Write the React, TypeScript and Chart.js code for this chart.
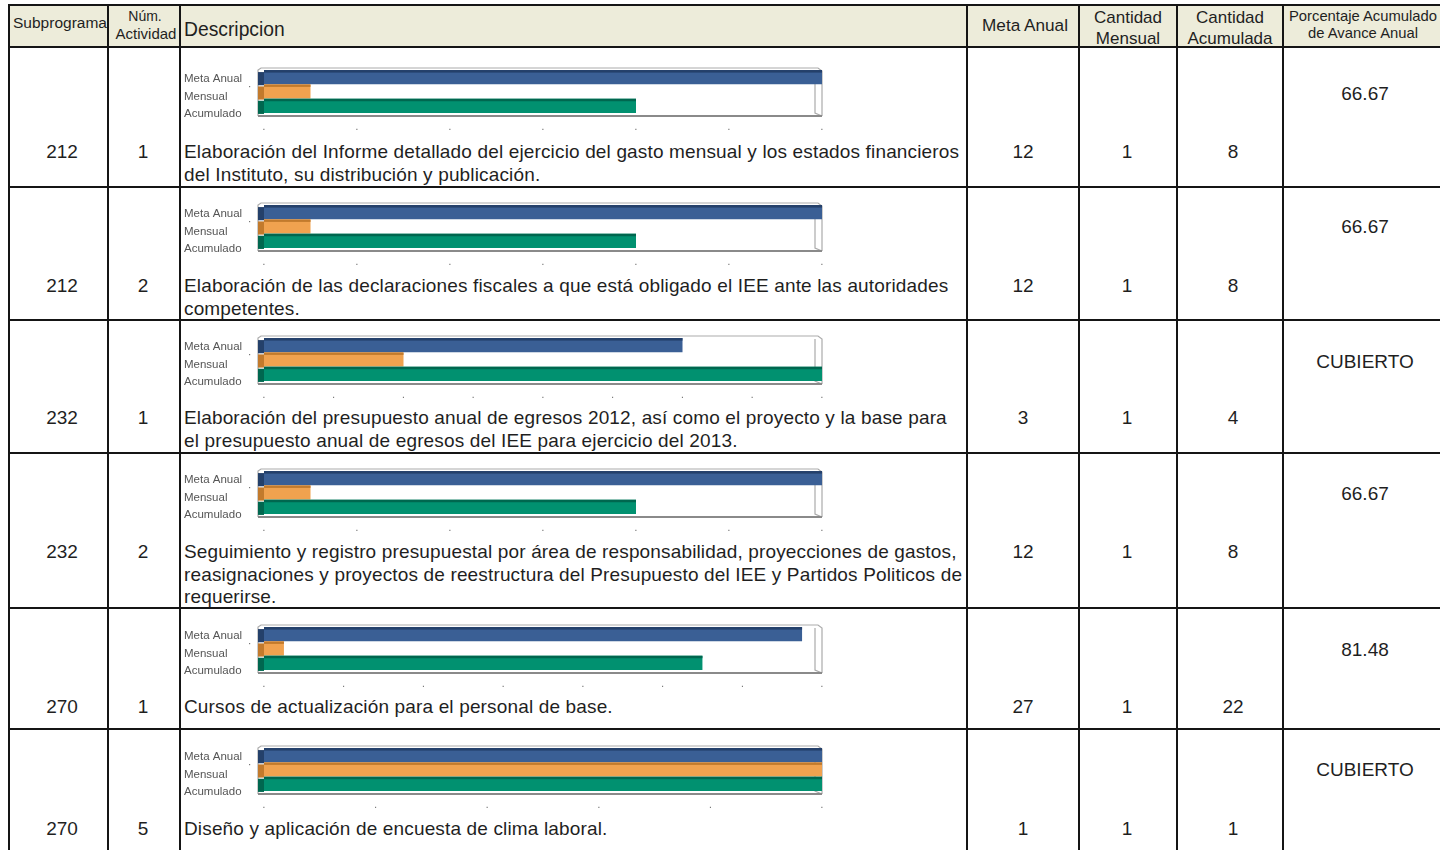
import React, { useEffect, useRef } from 'react';
import { Chart, registerables } from 'chart.js';

Chart.register(...registerables);

// ---- data ----
const subprogramas = ['212', '212', '232', '232', '270', '270'];
const actividades = ['1', '2', '1', '2', '1', '5'];
const metaAnual = [12, 12, 3, 12, 27, 1];
const cantidadMensual = [1, 1, 1, 1, 1, 1];
const cantidadAcumulada = [8, 8, 4, 8, 22, 1];
const porcentajes = ['66.67', '66.67', 'CUBIERTO', '66.67', '81.48', 'CUBIERTO'];
const axisMax = [12, 12, 4, 12, 28, 1];
const axisStep = [2, 2, 0.5, 2, 4, 0.2];
const serieLabels = ['Meta Anual', 'Mensual', 'Acumulado'];
const descripciones: string[][] = [
  [
    'Elaboración del Informe detallado del ejercicio del gasto mensual y los estados financieros',
    'del Instituto, su distribución y publicación.',
  ],
  [
    'Elaboración de las declaraciones fiscales a que está obligado el IEE ante las autoridades',
    'competentes.',
  ],
  [
    'Elaboración del presupuesto anual de egresos 2012, así como el proyecto y la base para',
    'el presupuesto anual de egresos del IEE para ejercicio del 2013.',
  ],
  [
    'Seguimiento y registro presupuestal por área de responsabilidad, proyecciones de gastos,',
    'reasignaciones y proyectos de reestructura del Presupuesto del IEE y Partidos Politicos de',
    'requerirse.',
  ],
  ['Cursos de actualización para el personal de base.'],
  ['Diseño y aplicación de encuesta de clima laboral.'],
];

// ---- styles / layout ----
const barColors = ['#3a5f95', '#f0a24f', '#019170'];
const barDark = ['#24406a', '#c27a2c', '#00674f'];
const FONT = '"Liberation Sans", Arial, Helvetica, sans-serif';
const COLS = [9, 108, 180, 967, 1079, 1177, 1283, 1441];
const ROWS = [5, 47, 187, 320, 453, 608, 729];
const canvasTop = [65, 200, 333, 466, 622, 743];
const textCenter = [152, 286, 418, 552, 707, 829];
const pctCenter = [94, 227, 362, 494, 650, 770];

const frame3d = {
  id: 'frame3d',
  beforeDatasetsDraw(chart: any) {
    const { ctx, chartArea } = chart;
    const { left, right, top, bottom } = chartArea;
    ctx.save();
    ctx.strokeStyle = '#ababab';
    ctx.lineWidth = 1.2;
    ctx.beginPath();
    ctx.moveTo(left - 6, bottom + 3);
    ctx.lineTo(left - 6, top);
    ctx.lineTo(left - 3, top - 2);
    ctx.lineTo(right - 4, top - 2);
    ctx.lineTo(right, top + 1);
    ctx.lineTo(right, bottom + 3);
    ctx.stroke();
    ctx.beginPath();
    ctx.moveTo(right - 7, top + 1);
    ctx.lineTo(right - 7, bottom);
    ctx.lineTo(right, bottom + 3);
    ctx.stroke();
    ctx.strokeStyle = '#8a8a8a';
    ctx.lineWidth = 2;
    ctx.beginPath();
    ctx.moveTo(left - 6, bottom + 3);
    ctx.lineTo(right, bottom + 3);
    ctx.stroke();
    ctx.restore();
  },
  afterDatasetsDraw(chart: any) {
    const { ctx } = chart;
    const meta = chart.getDatasetMeta(0);
    ctx.save();
    meta.data.forEach((bar: any, i: number) => {
      const p = bar.getProps(['x', 'y', 'base', 'height'], true);
      const t = p.y - p.height / 2;
      ctx.fillStyle = barDark[i];
      ctx.fillRect(p.base - 6, t + 2, 6, p.height - 1);
      ctx.fillRect(p.base, t, p.x - p.base, 2.5);
    });
    ctx.restore();
  },
  afterDraw(chart: any) {
    const { ctx, chartArea } = chart;
    const labels = chart.data.labels as string[];
    ctx.save();
    ctx.font = `11.5px ${FONT}`;
    ctx.fillStyle = '#555';
    ctx.textAlign = 'left';
    ctx.textBaseline = 'middle';
    labels.forEach((l, i) => {
      ctx.fillText(l, 1, chartArea.top + 9 + i * 17.5);
    });
    ctx.fillStyle = '#777';
    ctx.fillRect(chartArea.left - 15, chartArea.top + 16, 1.2, 1.2);
    ctx.restore();
  },
};

function MiniChart({ idx }: { idx: number }) {
  const ref = useRef<HTMLCanvasElement>(null);
  useEffect(() => {
    if (!ref.current) return;
    const chart = new Chart(ref.current, {
      type: 'bar',
      data: {
        labels: serieLabels,
        datasets: [
          {
            data: [metaAnual[idx], cantidadMensual[idx], cantidadAcumulada[idx]],
            backgroundColor: barColors,
            borderWidth: 0,
            barPercentage: 0.99,
            categoryPercentage: 1,
          },
        ],
      },
      options: {
        indexAxis: 'y',
        responsive: false,
        maintainAspectRatio: false,
        animation: false,
        layout: { padding: { top: 5, right: 8, left: 0, bottom: 0 } },
        plugins: { legend: { display: false }, tooltip: { enabled: false } },
        scales: {
          x: {
            min: 0,
            max: axisMax[idx],
            ticks: {
              stepSize: axisStep[idx],
              callback: () => '.',
              autoSkip: false,
              maxRotation: 0,
              padding: 0,
              color: '#666',
              font: { size: 10, family: FONT },
            },
            grid: { display: false },
            border: { display: false },
            afterFit: (s: any) => {
              s.height = 18;
            },
          },
          y: {
            ticks: { display: false },
            grid: { display: false },
            border: { display: false },
            afterFit: (s: any) => {
              s.width = 81;
            },
          },
        },
      } as any,
      plugins: [frame3d],
    });
    return () => chart.destroy();
  }, [idx]);
  return (
    <canvas
      ref={ref}
      width={647}
      height={66}
      style={{ position: 'absolute', left: 183, top: canvasTop[idx], width: 647, height: 66 }}
    />
  );
}

function Txt({
  cx,
  cy,
  children,
  size = 19,
  lh = 22,
  left,
  align = 'center',
  ls = 0,
}: {
  cx?: number;
  cy: number;
  children: React.ReactNode;
  size?: number;
  lh?: number;
  left?: number;
  align?: 'center' | 'left';
  ls?: number;
}) {
  const style: React.CSSProperties = {
    position: 'absolute',
    top: cy - lh / 2,
    fontSize: size,
    lineHeight: `${lh}px`,
    whiteSpace: 'nowrap',
    textAlign: align,
    letterSpacing: ls,
  };
  if (align === 'center') {
    style.left = (cx as number) - 100;
    style.width = 200;
  } else {
    style.left = left;
  }
  return <div style={style}>{children}</div>;
}

export default function App() {
  return (
    <div
      style={{
        position: 'fixed',
        left: 0,
        top: 0,
        width: 1440,
        height: 850,
        overflow: 'hidden',
        background: '#fff',
        fontFamily: FONT,
        color: '#1f1f1f',
      }}
    >
      {/* header background */}
      <div
        style={{
          position: 'absolute',
          left: COLS[0],
          top: ROWS[0],
          width: COLS[COLS.length - 1] - COLS[0],
          height: ROWS[1] - ROWS[0],
          background: '#edecda',
        }}
      />
      {/* header text */}
      <Txt cx={60} cy={23} size={15.5}>Subprograma</Txt>
      <Txt cx={145} cy={16} size={14} lh={17}>Núm.</Txt>
      <Txt cx={146} cy={33} size={15} lh={17}>Actividad</Txt>
      <Txt left={184} cy={30} size={19.3} align="left">Descripcion</Txt>
      <Txt cx={1025} cy={25} size={17.2}>Meta Anual</Txt>
      <Txt cx={1128} cy={18} size={17} lh={20}>Cantidad</Txt>
      <Txt cx={1128} cy={39} size={17} lh={20}>Mensual</Txt>
      <Txt cx={1230} cy={18} size={17} lh={20}>Cantidad</Txt>
      <Txt cx={1230} cy={39} size={17} lh={20}>Acumulada</Txt>
      <Txt cx={1363} cy={16} size={14.8} lh={17}>Porcentaje Acumulado</Txt>
      <Txt cx={1363} cy={33} size={14.8} lh={17}>de Avance Anual</Txt>

      {/* rows */}
      {subprogramas.map((sp, i) => (
        <React.Fragment key={i}>
          <MiniChart idx={i} />
          <Txt cx={62} cy={textCenter[i]}>{sp}</Txt>
          <Txt cx={143} cy={textCenter[i]}>{actividades[i]}</Txt>
          {descripciones[i].map((line, j) => (
            <Txt key={j} left={184} cy={textCenter[i] + j * 22.5} align="left" ls={0.15}>
              {line}
            </Txt>
          ))}
          <Txt cx={1023} cy={textCenter[i]}>{String(metaAnual[i])}</Txt>
          <Txt cx={1127} cy={textCenter[i]}>{String(cantidadMensual[i])}</Txt>
          <Txt cx={1233} cy={textCenter[i]}>{String(cantidadAcumulada[i])}</Txt>
          <Txt cx={1365} cy={pctCenter[i]}>{porcentajes[i]}</Txt>
        </React.Fragment>
      ))}

      {/* grid lines */}
      {ROWS.map((y, i) => (
        <div
          key={'h' + i}
          style={{
            position: 'absolute',
            left: COLS[0] - 1,
            top: y - 1,
            width: COLS[COLS.length - 1] - COLS[0] + 2,
            height: 2,
            background: '#151515',
          }}
        />
      ))}
      {COLS.map((x, i) => (
        <div
          key={'v' + i}
          style={{
            position: 'absolute',
            left: x - 1,
            top: ROWS[0] - 1,
            width: 2,
            height: 860,
            background: '#151515',
          }}
        />
      ))}
    </div>
  );
}
